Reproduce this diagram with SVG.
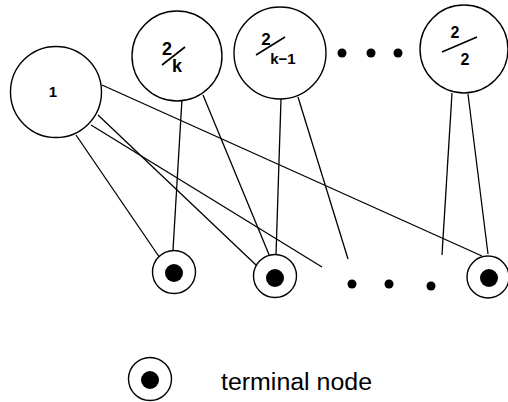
<svg xmlns="http://www.w3.org/2000/svg" width="508" height="402" viewBox="0 0 508 402">
<style>
.n{fill:#fff;stroke:#000;stroke-width:1.4}
.c line{stroke:#000;stroke-width:1.3;fill:none}
.dot{fill:#000}
.bar{stroke:#000;stroke-width:1.7}
.t{font-family:"Liberation Sans",Arial,sans-serif;font-weight:bold;fill:#000;text-anchor:middle}
.lg{font-family:"Liberation Sans",Arial,sans-serif;fill:#000;font-size:23px}
</style>
<rect width="508" height="402" fill="#fff"/>
<g id="connectors" class="c">
<line x1="102" y1="85" x2="482" y2="256"/>
<line x1="98" y1="115" x2="256" y2="265"/>
<line x1="91" y1="125" x2="322" y2="267"/>
<line x1="76" y1="135" x2="162" y2="261"/>
<line x1="182" y1="99" x2="173" y2="250"/>
<line x1="203" y1="95" x2="270" y2="257"/>
<line x1="281" y1="99" x2="276" y2="255"/>
<line x1="298" y1="97" x2="348" y2="259"/>
<line x1="452" y1="93" x2="442" y2="255"/>
<line x1="468" y1="94" x2="488" y2="254"/>
</g>
<g id="node1">
<circle class="n" cx="56" cy="92" r="45.5"/>
<text class="t" x="53" y="97" font-size="15">1</text>
</g>
<g id="node2k">
<circle class="n" cx="177" cy="56" r="45"/>
<text class="t" x="167" y="55" font-size="18">2</text>
<line class="bar" x1="162" y1="65" x2="185" y2="47"/>
<text class="t" x="177" y="72" font-size="18">k</text>
</g>
<g id="node2k1">
<circle class="n" cx="280" cy="53" r="46"/>
<text class="t" x="266" y="45" font-size="17">2</text>
<line class="bar" x1="256" y1="55" x2="285" y2="37"/>
<text class="t" x="283" y="64" font-size="15">k−1</text>
</g>
<g id="ellipsis-top">
<circle class="dot" cx="342" cy="53" r="4.5"/>
<circle class="dot" cx="371" cy="53" r="4.5"/>
<circle class="dot" cx="398" cy="53" r="4.5"/>
</g>
<g id="node22">
<circle class="n" cx="464" cy="49" r="44"/>
<text class="t" x="455" y="38" font-size="16">2</text>
<line class="bar" x1="442" y1="52" x2="477" y2="37"/>
<text class="t" x="465" y="65" font-size="16">2</text>
</g>
<g id="terminal1">
<circle class="n" cx="174" cy="272" r="21.5"/>
<circle class="dot" cx="174" cy="273" r="9"/>
</g>
<g id="terminal2">
<circle class="n" cx="275" cy="276" r="21.5"/>
<circle class="dot" cx="275" cy="278" r="9"/>
</g>
<g id="ellipsis-bottom">
<circle class="dot" cx="352" cy="284" r="4.5"/>
<circle class="dot" cx="389" cy="284" r="4.5"/>
<circle class="dot" cx="431" cy="286" r="4.5"/>
</g>
<g id="terminal3">
<circle class="n" cx="488" cy="277" r="21"/>
<circle class="dot" cx="489" cy="278" r="9"/>
</g>
<g id="legend">
<circle class="n" cx="150" cy="379" r="21.5"/>
<circle class="dot" cx="150" cy="380" r="9"/>
<text class="lg" x="221" y="390" textLength="151" lengthAdjust="spacingAndGlyphs">terminal node</text>
</g>
</svg>
